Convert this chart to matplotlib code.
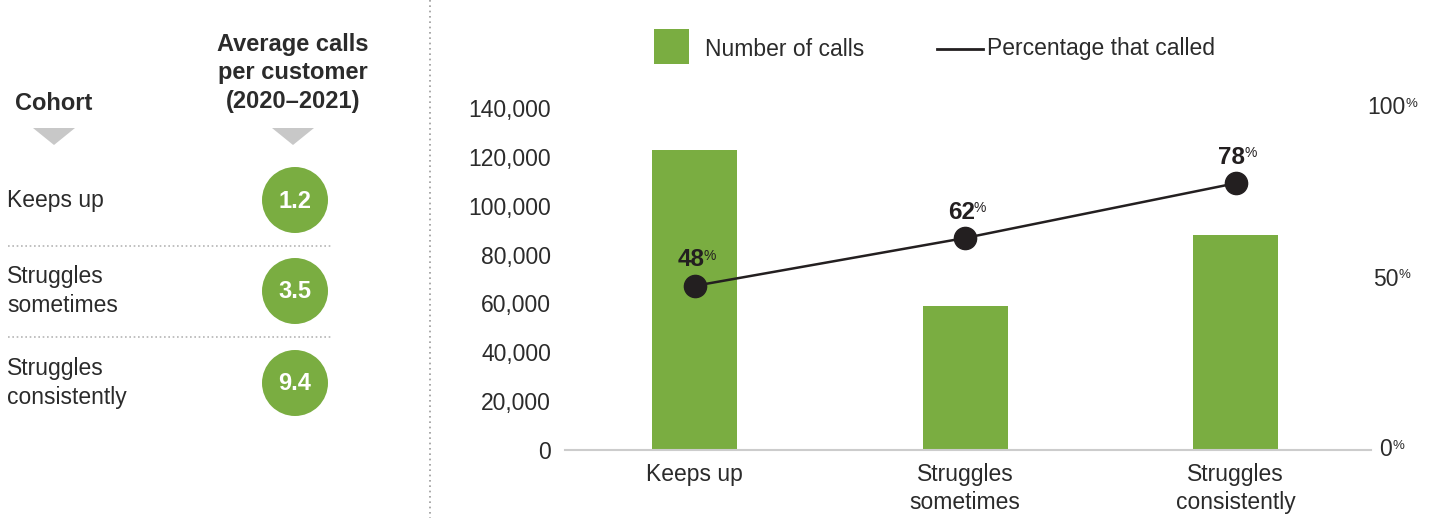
import matplotlib
matplotlib.use("Agg")
import matplotlib.pyplot as plt
import matplotlib.transforms as mtransforms
from matplotlib.patches import Circle, Polygon, Rectangle
from matplotlib.lines import Line2D
from matplotlib.ticker import FuncFormatter

plt.rcParams['font.family'] = ['Liberation Sans', 'DejaVu Sans']

# data
cohorts = ['Keeps up', 'Struggles\nsometimes', 'Struggles\nconsistently']
calls = [123000, 59000, 88000]
pct_called = [48, 62, 78]
avg_calls = [1.2, 3.5, 9.4]
calls_ticks = [0, 20000, 40000, 60000, 80000, 100000, 120000, 140000]
pct_ticks = [0, 50, 100]

GREEN = '#7aad41'
DARK = '#231f20'
TEXT = '#2b2b2b'
GREY = '#c8c8c8'

fig = plt.figure(figsize=(14.33, 5.18), dpi=100)

# overlay in pixel units for the table on the left and the legend
bg = fig.add_axes([0, 0, 1, 1])
bg.set_xlim(0, 1433)
bg.set_ylim(518, 0)
bg.axis('off')
bg.patch.set_alpha(0)

# vertical dotted separator
bg.plot([430, 430], [0, 518], ls=(0, (1, 2.2)), color='#9a9a9a', lw=1.2)

# table headers
bg.text(15, 104, 'Cohort', fontsize=17, fontweight='bold', color=TEXT,
        ha='left', va='center')
bg.text(293, 73, 'Average calls\nper customer\n(2020\u20132021)', fontsize=17,
        fontweight='bold', color=TEXT, ha='center', va='center', linespacing=1.33)
for cx in [54, 293]:
    bg.add_patch(Polygon([[cx - 21, 128], [cx + 21, 128], [cx, 145]],
                         closed=True, color=GREY, lw=0))

# table rows
row_y = [200, 291, 383]
for i, (name, v) in enumerate(zip(cohorts, avg_calls)):
    y = row_y[i]
    bg.text(7, y, name, fontsize=16.5, color=TEXT, ha='left', va='center',
            linespacing=1.32)
    bg.add_patch(Circle((295, y), 33, color=GREEN, lw=0))
    bg.text(295, y + 1, f'{v:.1f}', fontsize=17, fontweight='bold', color='white',
            ha='center', va='center')
    if i < len(row_y) - 1:
        sep = (row_y[i] + row_y[i + 1]) / 2
        bg.plot([8, 333], [sep, sep], ls=(0, (1, 1.6)), color='#b5b5b5', lw=1.2)

# legend
bg.add_patch(Rectangle((654, 29), 35, 35, color=GREEN, lw=0))
bg.text(705, 49, 'Number of calls', fontsize=16.5, color=TEXT, va='center')
bg.add_line(Line2D([937, 983], [49, 49], color=DARK, lw=2))
bg.text(987, 49, 'Percentage that called', fontsize=16.5, color=TEXT, va='center')

# main chart
ax = fig.add_axes([565 / 1433, 1 - 450 / 518, (1371 - 565) / 1433, (450 - 108) / 518])
ax.patch.set_alpha(0)
x = list(range(len(cohorts)))
ax.bar(x, calls, width=0.315, color=GREEN, zorder=2)
ax.set_xlim(-0.48, 2.5)
ax.set_ylim(0, 140000)
ax.set_yticks(calls_ticks)
ax.yaxis.set_major_formatter(FuncFormatter(lambda v, p: f'{v:,.0f}'))
ax.set_xticks(x, cohorts)
for s in ['top', 'left', 'right']:
    ax.spines[s].set_visible(False)
ax.spines['bottom'].set_color('#cccccc')
ax.spines['bottom'].set_linewidth(1.5)
ax.tick_params(axis='both', length=0, labelsize=16.5, labelcolor=TEXT)
ax.tick_params(axis='y', pad=10)
ax.tick_params(axis='x', pad=9)
for lab in ax.get_xticklabels():
    lab.set_linespacing(1.28)

ax2 = ax.twinx()
ax2.set_ylim(0, 100)
ax2.plot(x, pct_called, color=DARK, lw=1.8, marker='o', markersize=16, zorder=3,
         clip_on=False)
for s in ax2.spines.values():
    s.set_visible(False)
ax2.set_yticks([])

# right axis labels with superscript %
trans = mtransforms.blended_transform_factory(ax2.transAxes, ax2.transData)
for v in pct_ticks:
    t = ax2.text(1.0186, v, f'{v}', transform=trans, fontsize=16.5, color=TEXT,
                 ha='center', va='center')
    ax2.annotate('%', xy=(1, 0.95), xycoords=t, fontsize=9.5, color=TEXT,
                 ha='left', va='top')

# data labels
for i, p in enumerate(pct_called):
    t = ax2.annotate(f'{p}', xy=(i, p), xytext=(-3, 14), textcoords='offset points',
                     fontsize=17.5, fontweight='bold', color=DARK,
                     ha='center', va='baseline')
    ax2.annotate('%', xy=(0.97, 0.97), xycoords=t, fontsize=10, color=DARK,
                 ha='left', va='top')

fig.savefig('out.png', dpi=100)
